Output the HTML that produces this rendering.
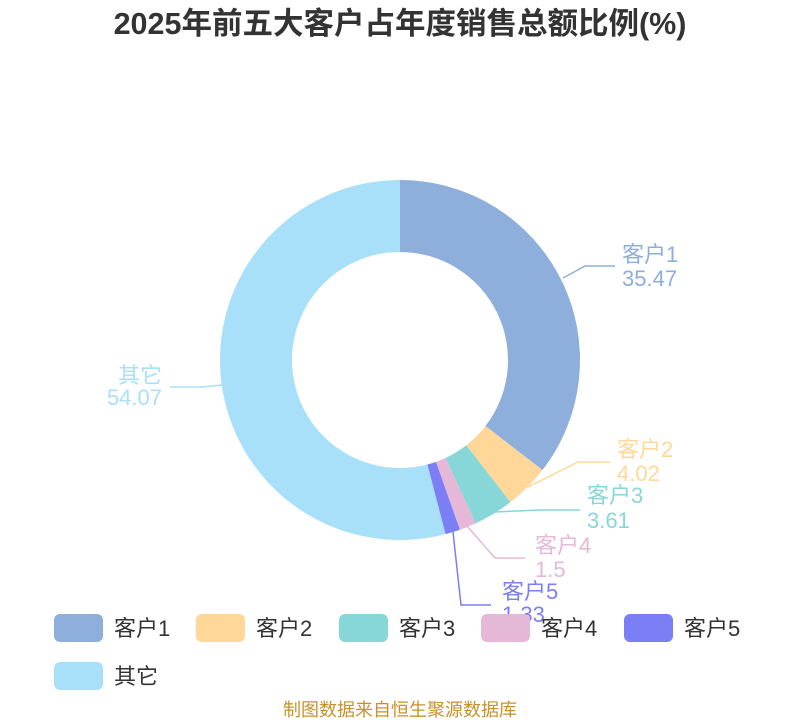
<!DOCTYPE html>
<html><head><meta charset="utf-8"><style>
body{margin:0;width:800px;height:720px;background:#fff;overflow:hidden;font-family:"Liberation Sans","Noto Sans CJK SC",sans-serif;}
</style></head><body>
<svg id="s" width="800" height="720" xmlns="http://www.w3.org/2000/svg" font-family="Liberation Sans, Noto Sans CJK SC, sans-serif">
<text x="400" y="34" text-anchor="middle" font-size="30.5" font-weight="bold" fill="#333">2025年前五大客户占年度销售总额比例(%)</text>
<g id="pie"></g>
<g fill="none" stroke-width="1.5">
<polyline points="563,278 585,266 615,266" stroke="#8eaedb"/>
<polyline points="528,487 578,462 610,462" stroke="#ffd899"/>
<polyline points="495,512 540,510 580,510" stroke="#87d6d8"/>
<polyline points="467,526 495,558 525,558" stroke="#e6b8d8"/>
<polyline points="453,532 461,605 491,605" stroke="#7b7ef5"/>
<polyline points="222,385 202,387 170,387" stroke="#a8e0fa"/>
</g>
<g font-size="22">
<text x="622" y="262" fill="#8eaedb">客户1</text><text x="622" y="286" fill="#8eaedb">35.47</text>
<text x="617" y="457" fill="#ffd899">客户2</text><text x="617" y="481" fill="#ffd899">4.02</text>
<text x="587" y="503" fill="#87d6d8">客户3</text><text x="587" y="528" fill="#87d6d8">3.61</text>
<text x="535" y="553" fill="#e6b8d8">客户4</text><text x="535" y="577" fill="#e6b8d8">1.5</text>
<text x="502" y="599" fill="#7b7ef5">客户5</text><text x="502" y="622" fill="#7b7ef5">1.33</text>
<text x="162" y="383" text-anchor="end" fill="#a8e0fa">其它</text><text x="162" y="405" text-anchor="end" fill="#a8e0fa">54.07</text>
</g>
<g font-size="22" fill="#333">
<rect x="54" y="614" width="49" height="28" rx="6" fill="#8eaedb"/><text x="114" y="636">客户1</text>
<rect x="196" y="614" width="49" height="28" rx="6" fill="#ffd899"/><text x="256" y="636">客户2</text>
<rect x="339" y="614" width="49" height="28" rx="6" fill="#87d6d8"/><text x="399" y="636">客户3</text>
<rect x="481" y="614" width="49" height="28" rx="6" fill="#e6b8d8"/><text x="541" y="636">客户4</text>
<rect x="624" y="614" width="49" height="28" rx="6" fill="#7b7ef5"/><text x="684" y="636">客户5</text>
<rect x="54" y="662" width="49" height="28" rx="6" fill="#a8e0fa"/><text x="114" y="684">其它</text>
</g>
<text x="400" y="716" text-anchor="middle" font-size="18" fill="#c8922a">制图数据来自恒生聚源数据库</text>
</svg>
<script>
var v=[35.47,4.02,3.61,1.5,1.33,54.07],c=["#8eaedb","#ffd899","#87d6d8","#e6b8d8","#7b7ef5","#a8e0fa"];
var cx=400,cy=360,R=180,r=108,a=-Math.PI/2,g=document.getElementById("pie"),h="";
function p(rad,t){return (cx+rad*Math.cos(t)).toFixed(2)+","+(cy+rad*Math.sin(t)).toFixed(2);}
for(var i=0;i<v.length;i++){var b=a+v[i]/100*2*Math.PI,l=(b-a)>Math.PI?1:0;
h+='<path fill="'+c[i]+'" d="M'+p(R,a)+' A'+R+','+R+' 0 '+l+' 1 '+p(R,b)+' L'+p(r,b)+' A'+r+','+r+' 0 '+l+' 0 '+p(r,a)+' Z"/>';a=b;}
g.innerHTML=h;
</script>
</body></html>
